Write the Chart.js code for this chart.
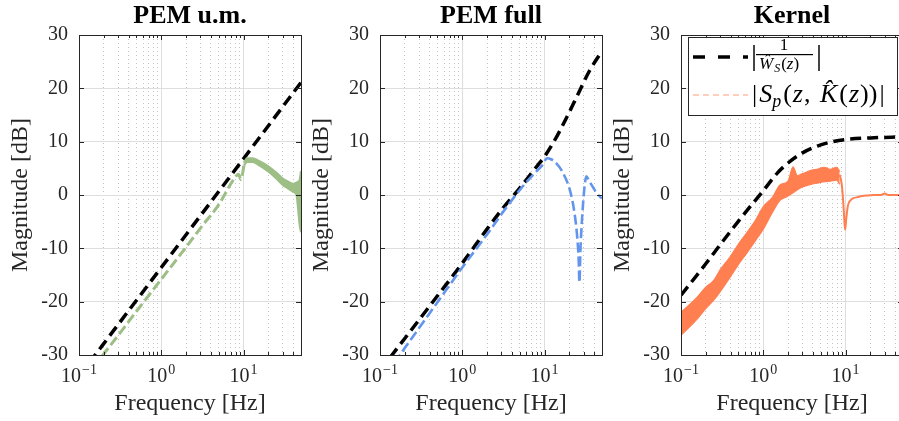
<!DOCTYPE html>
<html>
<head>
<meta charset="utf-8">
<script src="https://cdn.jsdelivr.net/npm/chart.js@4.4.1/dist/chart.umd.min.js"></script>
<style>
  html, body { margin: 0; padding: 0; background: #fff; }
  body { width: 899px; height: 421px; overflow: hidden; position: relative; }
  .panel { position: absolute; top: 0; width: 303px; height: 421px; }
</style>
</head>
<body>
<div class="panel" style="left:0px"><canvas id="c1" width="303" height="421"></canvas></div>
<div class="panel" style="left:301px"><canvas id="c2" width="303" height="421"></canvas></div>
<div class="panel" style="left:602px"><canvas id="c3" width="303" height="421"></canvas></div>
<script>
// shared axes
const freqMin = 0.1, freqMax = 50;
const magMin = -30, magMax = 30;
const decadeTicks = [0.1, 1, 10];
const decadeExponents = ['\u22121', '0', '1'];
const panelTitles = ['PEM u.m.', 'PEM full', 'Kernel'];

// PEM u.m. panel
const umBoundFreq = [0.1, 1, 10, 50];
const umBoundMag = [-34.0, -13.6, 6.8, 21.1];
const umFreq = [0.15, 0.2, 0.3, 0.5, 1, 2, 3, 5, 7.5, 8.7, 9.3, 10.2];
const umMag = [-32.3, -29.8, -26.3, -21.8, -15.8, -9.8, -6.2, -1.8, 2.8, 3.9, 2.9, 5.8];
const umBandFreq = [10.2, 11, 13, 15, 20, 25, 30, 35, 40, 44, 46, 48, 50];
const umBandHigh = [6.1, 6.9, 6.9, 6.5, 5.4, 4.2, 3.1, 2.5, 2.1, 2.3, 2.5, 2.8, 4.5];
const umBandLow = [5.5, 6.2, 6.2, 5.7, 4.4, 3.1, 1.9, 1.2, 0.6, 0.0, -2.5, -5.5, -7.0];

// PEM full panel
const fullBoundFreq = [0.1, 0.14, 0.2, 0.5, 1, 2, 2.9, 5, 8, 10, 13, 18, 25, 35, 50];
const fullBoundMag = [-33.0, -30.0, -26.9, -18.9, -12.8, -6.4, -3.1, 1.3, 5.3, 7.2, 10.0, 14.1, 18.6, 23.2, 27.0];
const fullFreq = [0.15, 0.2, 0.3, 0.5, 1, 2, 2.9, 5.1, 7.4, 9.3, 10.8, 12, 13.6, 17.1, 20.7, 23.1, 24.9, 26.0, 26.6, 27.3, 28.6, 30.5, 32.3, 35, 37.8, 42, 47.8, 50];
const fullMag = [-31.5, -28.7, -24.9, -20.1, -13.6, -7.4, -3.9, 1.1, 3.9, 5.5, 6.9, 6.7, 6.1, 3.9, 0.5, -3.3, -7.6, -12.0, -16.4, -10.5, -4.5, 1.2, 3.5, 2.6, 1.75, 0.6, -0.4, -0.6];

// Kernel panel
const kerBoundFreq = [0.1, 0.2, 0.3, 0.5, 0.7, 1, 1.5, 2, 3, 5, 7, 10, 20, 50];
const kerBoundMag = [-18.8, -12.9, -9.3, -4.9, -2.1, 0.8, 4.2, 6.0, 7.9, 9.4, 10.0, 10.4, 10.7, 10.9];
const kerBandFreq = [0.1, 0.15, 0.2, 0.25, 0.3, 0.4, 0.5, 0.63, 0.8, 1, 1.3, 1.6, 2, 2.3, 2.6, 3, 4, 4.5, 5.5, 6.5, 7.8, 8.5];
const kerBandHigh = [-22.0, -19.5, -17.3, -16.0, -14.0, -11.5, -9.2, -7.1, -4.8, -2.2, -0.4, 1.9, 2.6, 5.3, 3.6, 4.0, 4.7, 4.8, 5.2, 4.8, 5.2, 4.4];
const kerBandLow = [-26.3, -23.6, -21.3, -19.7, -18.1, -15.3, -13.0, -10.9, -8.6, -6.4, -3.2, -1.0, -0.2, 0.4, 1.0, 1.5, 2.1, 2.2, 2.5, 2.6, 2.8, 2.0];
const kerTailFreq = [8.5, 9.0, 9.4, 9.7, 9.9, 10.2, 10.7, 11.5, 12.5, 14, 16, 18, 22, 27, 30, 33, 40, 50];
const kerTailMag = [3.8, 2.0, -1.5, -5.0, -6.5, -4.5, -2.0, -1.0, -0.6, -0.4, -0.2, -0.1, 0.0, 0.0, 0.3, 0.0, 0.0, 0.0];

const serif = "'Liberation Serif', 'Times New Roman', serif";
const axisColor = '#262626';
const green = '#9dbf86', blue = '#6495ed', orange = '#ff7f50';

// minor log grid positions 2..9 per decade
const minorTicks = [];
decadeTicks.forEach(d => { for (let m = 2; m <= 9; m++) if (m * d <= freqMax + 1e-9) minorTicks.push(+(m * d).toPrecision(3)); });

const pts = (f, m) => f.map((x, i) => ({ x: x, y: m[i] }));

function boundLine(f, m) {
    return { data: pts(f, m), borderColor: '#000', borderWidth: 3.5, borderDash: [11, 6], clip: 0 };
}

// box around the axes plus inward ticks, like matlab's "box on"
const framePlugin = {
    id: 'frame',
    afterDatasetsDraw(chart) {
        const { ctx, chartArea: a, scales } = chart;
        ctx.save();
        ctx.strokeStyle = axisColor;
        ctx.lineWidth = 1;
        ctx.beginPath();
        const seg = (x1, y1, x2, y2) => { ctx.moveTo(x1, y1); ctx.lineTo(x2, y2); };
        scales.x.ticks.forEach(t => {
            const px = Math.round(scales.x.getPixelForValue(t.value)) + 0.5;
            seg(px, a.bottom, px, a.bottom - 5); seg(px, a.top, px, a.top + 5);
        });
        scales.xMinor.ticks.forEach(t => {
            const px = Math.round(scales.xMinor.getPixelForValue(t.value)) + 0.5;
            seg(px, a.bottom, px, a.bottom - 3); seg(px, a.top, px, a.top + 3);
        });
        scales.y.ticks.forEach(t => {
            const py = Math.round(scales.y.getPixelForValue(t.value)) + 0.5;
            seg(a.left, py, a.left + 5, py); seg(a.right, py, a.right - 5, py);
        });
        ctx.stroke();
        ctx.strokeRect(Math.round(a.left) + 0.5, Math.round(a.top) + 0.5, Math.round(a.width), Math.round(a.height));
        ctx.restore();
    },
    // decade labels as 10 with a raised exponent
    afterDraw(chart) {
        const { ctx, chartArea: a, scales } = chart;
        ctx.save();
        ctx.fillStyle = axisColor;
        ctx.textBaseline = 'alphabetic';
        ctx.textAlign = 'left';
        decadeTicks.forEach((v, i) => {
            const px = scales.x.getPixelForValue(v);
            ctx.font = '20px ' + serif;
            const wBase = ctx.measureText('10').width;
            ctx.font = '14px ' + serif;
            const wExp = ctx.measureText(decadeExponents[i]).width;
            const x0 = px - (wBase + wExp + 1) / 2;
            ctx.font = '20px ' + serif;
            ctx.fillText('10', x0, a.bottom + 27);
            ctx.font = '14px ' + serif;
            ctx.fillText(decadeExponents[i], x0 + wBase + 1, a.bottom + 19);
        });
        ctx.restore();
    }
};

// draw a run of text pieces with their own fonts, left to right
function textRun(ctx, x, y, pieces) {
    pieces.forEach(p => {
        ctx.font = p.f;
        ctx.fillText(p.t, x, y + (p.dy || 0));
        x += ctx.measureText(p.t).width + (p.gap || 0);
    });
    return x;
}

const legendPlugin = {
    id: 'mathLegend',
    afterDraw(chart) {
        const { ctx, chartArea: a } = chart;
        const bx = Math.round(a.left) + 7, by = Math.round(a.top) + 2, bw = 209, bh = 78;
        ctx.save();
        ctx.fillStyle = '#fff';
        ctx.fillRect(bx, by, bw, bh);
        ctx.strokeStyle = axisColor;
        ctx.lineWidth = 1;
        ctx.strokeRect(bx + 0.5, by + 0.5, bw, bh);

        // line samples
        ctx.strokeStyle = '#000'; ctx.lineWidth = 3.5; ctx.setLineDash([12, 13]);
        ctx.beginPath(); ctx.moveTo(bx + 5, by + 20); ctx.lineTo(bx + 60, by + 20); ctx.stroke();
        ctx.strokeStyle = '#ff9d7a'; ctx.lineWidth = 1; ctx.setLineDash([6, 4]);
        ctx.beginPath(); ctx.moveTo(bx + 5, by + 58); ctx.lineTo(bx + 60, by + 58); ctx.stroke();
        ctx.setLineDash([]);

        ctx.fillStyle = '#000';
        ctx.textBaseline = 'alphabetic';
        ctx.textAlign = 'left';
        // |1 / W_S(z)|
        ctx.font = '30px ' + serif;
        ctx.fillText('|', bx + 63, by + 28);
        ctx.font = '17px ' + serif;
        ctx.textAlign = 'center';
        ctx.fillText('1', bx + 96, by + 13);
        ctx.textAlign = 'left';
        ctx.fillRect(bx + 68, by + 17, 57, 1.2);
        textRun(ctx, bx + 71, by + 32, [
            { t: 'Ŵ', f: 'italic 17px ' + serif, gap: 1 },
            { t: 'S', f: 'italic 12px ' + serif, dy: 3, gap: 1 },
            { t: '(', f: '17px ' + serif },
            { t: 'z', f: 'italic 17px ' + serif },
            { t: ')', f: '17px ' + serif }
        ]);
        ctx.font = '30px ' + serif;
        ctx.fillText('|', bx + 128, by + 28);

        // |S_p(z, K(z))|
        textRun(ctx, bx + 64, by + 65, [
            { t: '|', f: '26px ' + serif, gap: 2 },
            { t: 'S', f: 'italic 26px ' + serif },
            { t: 'p', f: 'italic 18px ' + serif, dy: 5, gap: 2 },
            { t: '(', f: '26px ' + serif, gap: 1 },
            { t: 'z', f: 'italic 26px ' + serif, gap: 1 },
            { t: ', ', f: '26px ' + serif, gap: 3 },
            { t: 'K\u0302', f: 'italic 26px ' + serif, gap: 2 },
            { t: '(', f: '26px ' + serif, gap: 1 },
            { t: 'z', f: 'italic 26px ' + serif, gap: 1 },
            { t: '))', f: '26px ' + serif, gap: 2 },
            { t: '|', f: '26px ' + serif }
        ]);
        ctx.restore();
    }
};

function makeChart(id, title, datasets, extra) {
    return new Chart(document.getElementById(id), {
        type: 'line',
        data: { datasets: datasets },
        options: {
            responsive: false,
            animation: false,
            layout: { padding: { left: 0, right: 2, top: 0, bottom: 0 } },
            elements: { point: { radius: 0 }, line: { cubicInterpolationMode: 'monotone' } },
            plugins: {
                legend: { display: false },
                tooltip: { enabled: false },
                title: {
                    display: true, text: title, fullSize: false, color: '#000',
                    font: { family: serif, size: 26, weight: 'bold' },
                    padding: { top: 0.6, bottom: 3.2 }
                }
            },
            scales: {
                x: {
                    type: 'logarithmic', position: 'bottom', min: freqMin, max: freqMax,
                    afterBuildTicks: s => { s.ticks = decadeTicks.map(v => ({ value: v })); },
                    afterFit: s => { s.height = 66; },
                    ticks: { autoSkip: false, maxRotation: 0, padding: 8, callback: () => '' },
                    grid: { color: '#dedede', drawTicks: false },
                    border: { display: false },
                    title: {
                        display: true, text: 'Frequency [Hz]', color: axisColor,
                        font: { family: serif, size: 24 }, padding: { top: 0, bottom: 2.8 }
                    }
                },
                xMinor: {
                    type: 'logarithmic', position: 'top', min: freqMin, max: freqMax,
                    afterBuildTicks: s => { s.ticks = minorTicks.map(v => ({ value: v })); },
                    afterFit: s => { s.height = 0; },
                    ticks: { display: false },
                    grid: { color: '#c4c4c4', drawTicks: false },
                    border: { display: false, dash: [1, 3] }
                },
                y: {
                    min: magMin, max: magMax,
                    afterFit: s => { s.width = 79; },
                    ticks: { stepSize: 10, padding: 11, color: axisColor, font: { family: serif, size: 20 } },
                    grid: { color: '#dedede', drawTicks: false },
                    border: { display: false },
                    title: {
                        display: true, text: 'Magnitude [dB]', color: axisColor,
                        font: { family: serif, size: 24 }, padding: { top: 6, bottom: 0 }
                    }
                }
            }
        },
        plugins: [framePlugin].concat(extra || [])
    });
}

makeChart('c1', panelTitles[0], [
    { data: pts(umFreq, umMag), borderColor: green, borderWidth: 3, borderDash: [10, 4], clip: 0 },
    { data: pts(umBandFreq, umBandHigh), borderColor: green, borderWidth: 2, clip: 0 },
    { data: pts(umBandFreq, umBandLow), borderColor: green, borderWidth: 2, fill: '-1', backgroundColor: green, clip: 0 },
    boundLine(umBoundFreq, umBoundMag)
]);

makeChart('c2', panelTitles[1], [
    { data: pts(fullFreq, fullMag), borderColor: blue, borderWidth: 2.6, borderDash: [10, 4], clip: 0 },
    boundLine(fullBoundFreq, fullBoundMag)
]);

makeChart('c3', panelTitles[2], [
    { data: pts(kerTailFreq, kerTailMag), borderColor: orange, borderWidth: 2, clip: 0 },
    { data: pts(kerBandFreq, kerBandHigh), borderColor: orange, borderWidth: 1.2, clip: 0 },
    { data: pts(kerBandFreq, kerBandLow), borderColor: orange, borderWidth: 1.2, fill: '-1', backgroundColor: orange, clip: 0 },
    boundLine(kerBoundFreq, kerBoundMag)
], [legendPlugin]);
</script>
</body>
</html>
